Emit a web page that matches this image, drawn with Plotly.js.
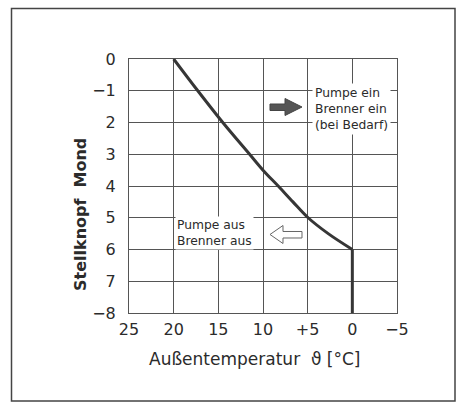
<!DOCTYPE html>
<html>
<head>
<meta charset="utf-8">
<script src="https://cdn.plot.ly/plotly-3.0.1.min.js"></script>
<style>html,body{margin:0;padding:0;background:#fff;}#chart{width:459px;height:403px;}</style>
</head>
<body>
<div id="chart"></div>
<script>
// Data
const curveTemp = [20, 17.3, 14.5, 11.5, 10.0, 8.3, 6.65, 4.95, 2.7, 0];
const curveKnob = [0, 1, 2, 3, 3.5, 4, 4.5, 5, 5.5, 6];
const cutoffTemp = [0, 0];
const cutoffKnob = [6, 8];
const xTickVals = [25, 20, 15, 10, 5, 0, -5];
const xTickText = ['25', '20', '15', '10', '+5', '0', '\u22125'];
const yTickVals = [0, 1, 2, 3, 4, 5, 6, 7, 8];
const yTickText = ['0', '\u22121', '2', '3', '4', '5', '6', '7', '\u22128'];

const W = 459, H = 403;
const M = {l: 129, r: 62, t: 59, b: 90};
const PW = W - M.l - M.r, PH = H - M.t - M.b;
function px(x) { return (x - M.l) / PW; }
function py(y) { return (H - M.b - y) / PH; }
function path(pts) {
  return 'M' + pts.map(p => px(p[0]).toFixed(4) + ',' + py(p[1]).toFixed(4)).join(' L') + ' Z';
}

const font = 'DejaVu Sans, Verdana, sans-serif';
const ink = '#2b2b2b';

const traces = [
  {x: curveTemp, y: curveKnob, type: 'scatter', mode: 'lines',
   line: {color: '#363636', width: 3, shape: 'spline', smoothing: 1}, hoverinfo: 'skip'},
  {x: cutoffTemp, y: cutoffKnob, type: 'scatter', mode: 'lines',
   line: {color: '#363636', width: 3}, hoverinfo: 'skip'}
];

const layout = {
  width: W, height: H,
  margin: M,
  paper_bgcolor: '#fff', plot_bgcolor: '#fff',
  showlegend: false,
  font: {family: font, color: ink},
  xaxis: {
    range: [25, -5], tickvals: xTickVals, ticktext: xTickText,
    showgrid: true, gridcolor: '#555', gridwidth: 1,
    showline: true, linecolor: '#555', linewidth: 1, mirror: true,
    zeroline: false, ticks: '', tickfont: {size: 16, family: font, color: ink},
    ticklabelstandoff: 2,
    fixedrange: true
  },
  yaxis: {
    range: [8, 0], tickvals: yTickVals, ticktext: yTickText,
    showgrid: true, gridcolor: '#555', gridwidth: 1,
    showline: true, linecolor: '#555', linewidth: 1, mirror: true,
    zeroline: false, ticks: '', tickfont: {size: 16, family: font, color: ink},
    ticklabelstandoff: 9,
    fixedrange: true
  },
  annotations: [
    {xref: 'paper', yref: 'paper', x: px(312), y: py(108.5), xanchor: 'left', yanchor: 'middle',
     text: 'Pumpe ein<br>Brenner ein<br>(bei Bedarf)', align: 'left', showarrow: false,
     bgcolor: '#fff', borderpad: 2, font: {size: 12.3, family: font, color: ink}},
    {xref: 'paper', yref: 'paper', x: px(175), y: py(233), xanchor: 'left', yanchor: 'middle',
     text: 'Pumpe aus<br>Brenner aus', align: 'left', showarrow: false,
     bgcolor: '#fff', borderpad: 1, font: {size: 12.3, family: font, color: ink}},
    {xref: 'paper', yref: 'paper', x: px(255), y: py(359), xanchor: 'center', yanchor: 'middle',
     text: 'Außentemperatur  \u03D1 [°C]', showarrow: false,
     font: {size: 17, family: font, color: ink}},
    {xref: 'paper', yref: 'paper', x: px(80), y: py(215), xanchor: 'center', yanchor: 'middle',
     text: '<b>Stellknopf  Mond</b>', textangle: -90, showarrow: false,
     font: {size: 16, family: font, color: ink}}
  ],
  shapes: [
    // outer frame
    {type: 'rect', xref: 'paper', yref: 'paper', x0: px(11.5), x1: px(455), y0: py(401), y1: py(8.5),
     line: {color: '#444', width: 1.5}, fillcolor: 'rgba(0,0,0,0)', layer: 'below'},
    // filled arrow pointing right
    {type: 'path', xref: 'paper', yref: 'paper',
     path: path([[270,104],[285,104],[285,98.5],[302,107],[285,115.5],[285,110.5],[270,110.5]]),
     fillcolor: '#555', line: {color: '#444', width: 1}},
    // outline arrow pointing left
    {type: 'path', xref: 'paper', yref: 'paper',
     path: path([[270,234.5],[283,225.5],[283,231.5],[302,231.5],[302,238],[283,238],[283,243.5]]),
     fillcolor: '#fff', line: {color: '#666', width: 1}}
  ]
};

Plotly.newPlot('chart', traces, layout, {displayModeBar: false, staticPlot: true});
</script>
</body>
</html>
